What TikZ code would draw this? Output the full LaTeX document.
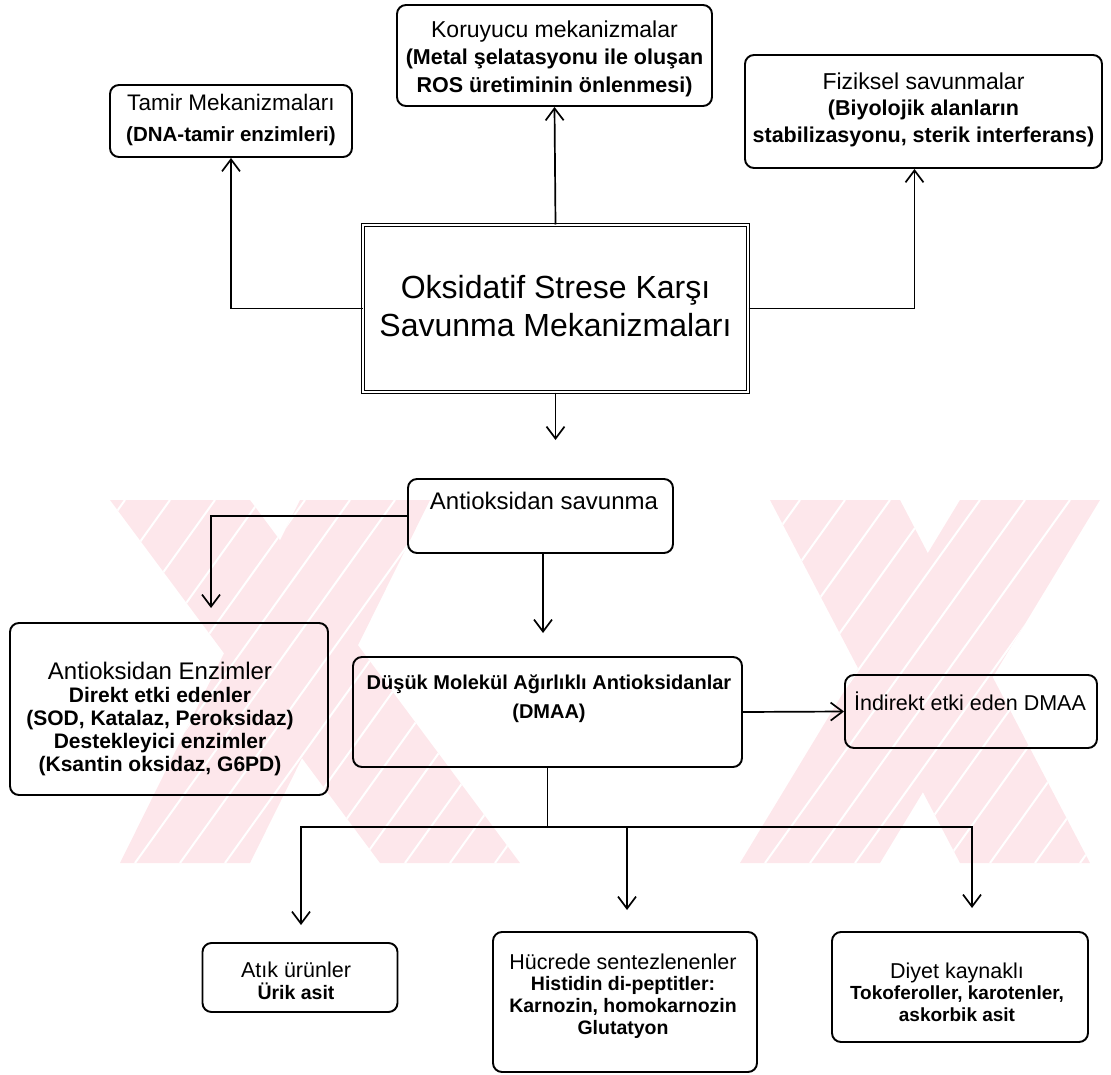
\documentclass[tikz,border=0pt]{standalone}
\usepackage{fontspec}
\setmainfont{Liberation Sans}
\usetikzlibrary{arrows.meta}
\definecolor{wmpink}{RGB}{253,231,235}
\newcommand{\fs}[2]{\fontsize{#1}{#2}\selectfont}
\newcommand{\wmbands}{%
  (110,500) -- (250,500) -- (520,863) -- (380,863) -- cycle
  (300,500) -- (430,500) -- (250,863) -- (120,863) -- cycle
  (770,500) -- (900,500) -- (1090,863) -- (960,863) -- cycle
  (960,500) -- (1100,500) -- (880,863) -- (740,863) -- cycle}

\begin{document}
\begin{tikzpicture}[x=1pt,y=-1pt,
  box/.style={draw, line width=1.9pt, rounded corners=9pt, inner sep=0pt},
  mainbox/.style={draw, double, line width=1pt, double distance=1.8pt, inner sep=0pt},
  txt/.style={align=center, inner sep=0pt},
  link/.style={line width=1.7pt},
  arr/.style={link, -{Straight Barb[length=12pt,width=18pt,line width=1.7pt]}}]

\useasboundingbox (0,0) rectangle (1111,1075);

% faint striped background band
\fill[wmpink] \wmbands;
\begin{scope}
  \clip \wmbands;
  \foreach \k in {-8,...,26}
    \draw[white, line width=2pt] (\k*45,863) -- ++(260,-363);
\end{scope}

% ---------- top level ----------
\node[mainbox, minimum width=385pt, minimum height=167pt] (main) at (555.5,308.5) {};
\node[txt, font=\fs{32}{38}] (main-t) at (555.5,306) {Oksidatif Strese Karşı\\Savunma Mekanizmaları};

\node[box, minimum width=242pt, minimum height=72pt] (tamir) at (231,121) {};
\node[txt, font=\fs{22.5}{31}] (tamir-t) at (231,120)
  {Tamir Mekanizmaları\\{\bfseries\fs{20.5}{31}(DNA-tamir enzimleri)}};

\node[box, minimum width=315pt, minimum height=101pt] (koru) at (554.5,55.5) {};
\node[txt, font=\fs{23}{27.5}] (koru-t) at (554.5,58.5)
  {Koruyucu mekanizmalar\\{\bfseries\fs{21.5}{27.5}(Metal şelatasyonu ile oluşan}\\{\bfseries\fs{21.5}{27.5}ROS üretiminin önlenmesi)}};

\node[box, minimum width=357pt, minimum height=113pt] (fizik) at (923.5,111.5) {};
\node[txt, font=\fs{23}{26.5}] (fizik-t) at (923.5,109.5)
  {Fiziksel savunmalar\\{\bfseries\fs{21.5}{26.5}(Biyolojik alanların}\\{\bfseries\fs{21.5}{26.5}stabilizasyonu, sterik interferans)}};

% ---------- antioxidant defence ----------
\node[box, minimum width=265pt, minimum height=74pt] (savunma) at (540.5,516) {};
\node[txt, font=\fs{24}{28}] (savunma-t) at (544,501) {Antioksidan savunma};

\node[box, minimum width=318pt, minimum height=172pt] (enzim) at (169,709) {};
\node[txt, font=\fs{24}{23}] (enzim-t) at (160,719)
  {Antioksidan Enzimler\\{\bfseries\fs{21}{23}Direkt etki edenler}\\{\bfseries\fs{21}{23}(SOD, Katalaz, Peroksidaz)}\\{\bfseries\fs{21}{23}Destekleyici enzimler}\\{\bfseries\fs{21}{23}(Ksantin oksidaz, G6PD)}};

\node[box, minimum width=389pt, minimum height=110pt] (dmaa) at (547.5,712) {};
\node[txt, font=\bfseries\fs{20}{29}] (dmaa-t) at (549,699)
  {Düşük Molekül Ağırlıklı Antioksidanlar\\(DMAA)};

\node[box, minimum width=252pt, minimum height=73pt] (indirekt) at (971,711.5) {};
\node[txt, font=\fs{21.5}{26}] (indirekt-t) at (970,701) {İndirekt etki eden DMAA};

% ---------- low molecular weight groups ----------
\node[box, minimum width=195pt, minimum height=69pt] (atik) at (300,977.5) {};
\node[txt, font=\fs{21.5}{22}] (atik-t) at (296,981)
  {Atık ürünler\\{\bfseries\fs{19.5}{22}Ürik asit}};

\node[box, minimum width=264pt, minimum height=140pt] (hucre) at (625,1002) {};
\node[txt, font=\fs{21.5}{21.7}] (hucre-t) at (623,996)
  {Hücrede sentezlenenler\\{\bfseries\fs{19.5}{21.7}Histidin di-peptitler:}\\{\bfseries\fs{19.5}{21.7}Karnozin, homokarnozin}\\{\bfseries\fs{19.5}{21.7}Glutatyon}};

\node[box, minimum width=256pt, minimum height=110pt] (diyet) at (960,987) {};
\node[txt, font=\fs{21.5}{21.5}] (diyet-t) at (957,992)
  {Diyet kaynaklı\\{\bfseries\fs{19}{21.5}Tokoferoller, karotenler,}\\{\bfseries\fs{19}{21.5}askorbik asit}};

% ---------- connectors ----------
\coordinate (down-tip) at (555.5,440);
\coordinate (enzim-tip) at (211,608);
\coordinate (dmaa-tip) at (543,633);
\coordinate (junc) at (547.5,827);
\coordinate (atik-tip) at (301,925);
\coordinate (hucre-tip) at (627,910);
\coordinate (diyet-tip) at (972,908);

\draw[arr] (main.north) -- (koru.south);
\draw[arr] (main.west) -| (tamir.south);
\draw[arr] (main.east) -| ([xshift=-9pt]fizik.south);
\draw[arr] (main.south) -- (down-tip);

\draw[arr] (savunma.west) -| (enzim-tip);
\draw[arr] ([xshift=2.5pt]savunma.south) -- (dmaa-tip);

\draw[arr] (dmaa.east) -- (indirekt.west);
\draw[link] (dmaa.south) -- (junc);
\draw[arr] (junc) -| (atik-tip);
\draw[arr] (junc) -| (hucre-tip);
\draw[arr] (junc) -| (diyet-tip);
\end{tikzpicture}
\end{document}
